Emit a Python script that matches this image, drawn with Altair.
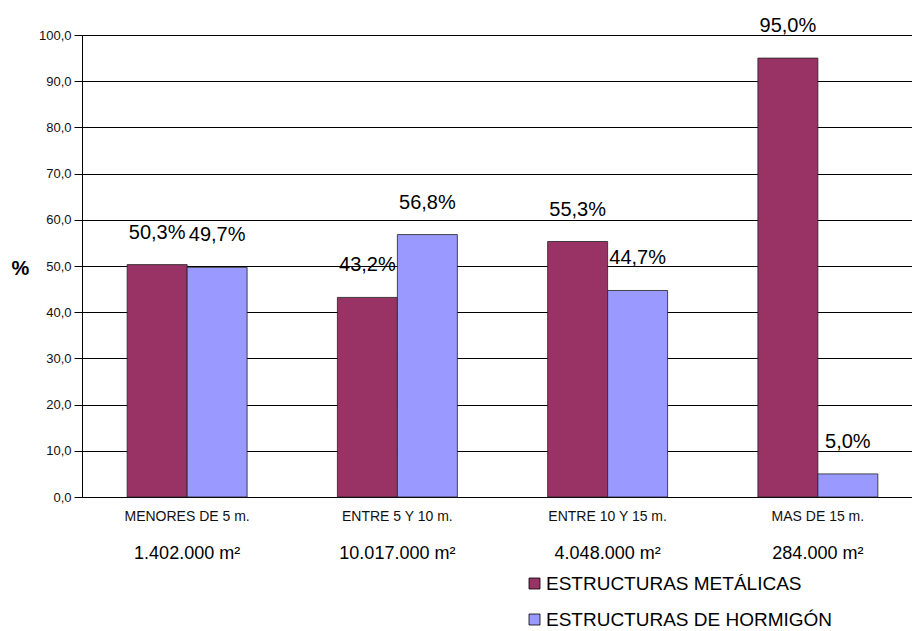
import altair as alt
import pandas as pd

categories = ["MENORES DE 5 m.", "ENTRE 5 Y 10 m.", "ENTRE 10 Y 15 m.", "MAS DE 15 m."]
areas = ["1.402.000 m²", "10.017.000 m²", "4.048.000 m²", "284.000 m²"]
series = ["ESTRUCTURAS METÁLICAS", "ESTRUCTURAS DE HORMIGÓN"]
metalicas = [50.3, 43.2, 55.3, 95.0]
hormigon = [49.7, 56.8, 44.7, 5.0]
y_ticks = [0, 10, 20, 30, 40, 50, 60, 70, 80, 90, 100]
colors = ["#993366", "#9999FF"]

rows = []
for i, c in enumerate(categories):
    rows.append({"cat": c, "serie": series[0], "value": metalicas[i]})
    rows.append({"cat": c, "serie": series[1], "value": hormigon[i]})
df = pd.DataFrame(rows)
area_df = pd.DataFrame({"cat": categories, "area": areas})

FONT = "Liberation Sans"

xscale = alt.Scale(domain=categories, range=[0, 841], paddingInner=0.4294, paddingOuter=0.2147)
xaxis = alt.Axis(title=None, labelAngle=0, labelFontSize=14, labelPadding=12, ticks=False,
                 domainColor="#000", labelColor="#111", labelFont=FONT, grid=False)
x_enc = alt.X("cat:N", scale=xscale, axis=xaxis, sort=categories)
xoff = alt.XOffset("serie:N", scale=alt.Scale(domain=series, paddingInner=0, paddingOuter=0), sort=series)
yscale = alt.Scale(domain=[0, 100], nice=False)
yaxis = alt.Axis(values=y_ticks, labelExpr="replace(format(datum.value, '.1f'), '.', ',')",
                 title="%", titleAngle=0, titleX=-62, titleY=233, titleFontSize=20,
                 titleFontWeight="bold", titleAlign="center", titleBaseline="middle",
                 titleColor="#000", labelFontSize=13, labelColor="#111", labelPadding=3,
                 tickSize=8, tickColor="#000", domainColor="#000", gridColor="#000",
                 gridWidth=1, labelFont=FONT, titleFont=FONT)
y_enc = alt.Y("value:Q", scale=yscale, axis=yaxis)

bars = alt.Chart(df).mark_bar(stroke="#222", strokeWidth=0.8).encode(
    x=x_enc,
    xOffset=xoff,
    y=y_enc,
    color=alt.Color("serie:N", scale=alt.Scale(domain=series, range=colors),
                    legend=alt.Legend(title=None, orient="none", legendX=443, legendY=539,
                                      symbolType="square", symbolSize=121,
                                      symbolStrokeColor="#000", symbolStrokeWidth=0.8,
                                      labelFontSize=19, labelFont=FONT, labelColor="#000",
                                      rowPadding=16, labelOffset=2, direction="vertical",
                                      labelLimit=400)),
)

labels = alt.Chart(df).transform_calculate(
    lab="replace(format(datum.value, '.1f'), '.', ',') + '%'"
).mark_text(fontSize=20, font=FONT, baseline="middle", align="center", dy=-32, color="#000").encode(
    x=x_enc,
    xOffset=xoff,
    y=y_enc,
    text="lab:N",
)

area_text = alt.Chart(area_df).mark_text(fontSize=18, font=FONT, baseline="middle",
                                         align="center", color="#000").encode(
    x=x_enc,
    y=alt.value(519),
    text="area:N",
)

chart = alt.layer(bars, labels, area_text).properties(
    width=830, height=462, autosize="none",
    padding={"left": 82, "top": 35, "right": 0, "bottom": 134},
).configure_view(strokeWidth=0).configure(font=FONT)

chart.save("out.html", embed_options={"renderer": "svg", "actions": False})
